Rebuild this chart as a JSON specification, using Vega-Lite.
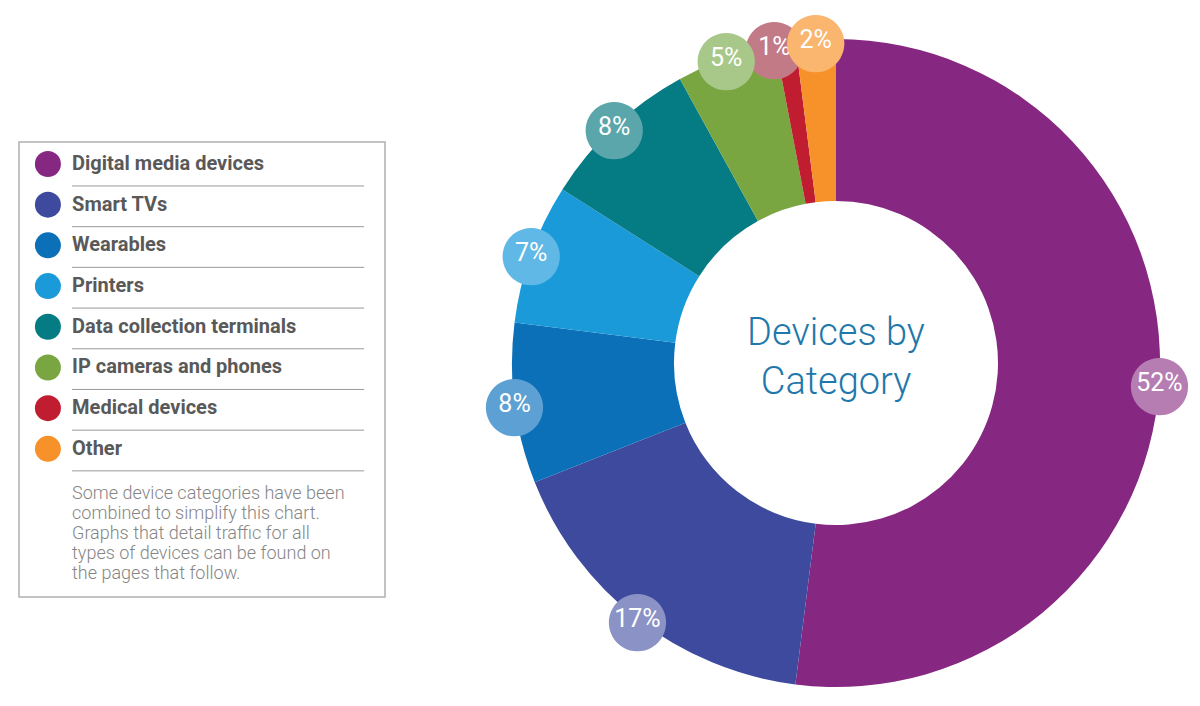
{
  "$schema": "https://vega.github.io/schema/vega-lite/v6.json",
  "background": "white",
  "padding": {"left": 18, "top": 0, "right": 0, "bottom": 0},
  "spacing": 84,
  "config": {"view": {"stroke": null}, "font": "Roboto"},
  "datasets": {
    "slices": [
      {"category": "Digital media devices", "value": 52, "label": "52%", "order": 1},
      {"category": "Smart TVs", "value": 17, "label": "17%", "order": 2},
      {"category": "Wearables", "value": 8, "label": "8%", "order": 3},
      {"category": "Printers", "value": 7, "label": "7%", "order": 4},
      {"category": "Data collection terminals", "value": 8, "label": "8%", "order": 5},
      {"category": "IP cameras and phones", "value": 5, "label": "5%", "order": 6},
      {"category": "Medical devices", "value": 1, "label": "1%", "order": 7},
      {"category": "Other", "value": 2, "label": "2%", "order": 8}
    ],
    "note": [
      {"text": "Some device categories have been\ncombined to simplify this chart.\nGraphs that detail traffic for all\ntypes of devices can be found on\nthe pages that follow."}
    ],
    "title": [{"text": "Devices by\nCategory"}]
  },
  "hconcat": [
    {
      "spacing": 0,
      "vconcat": [
        {
          "width": 366,
          "height": 141,
          "data": {"values": [{}]},
          "mark": {"type": "text", "text": ""},
          "encoding": {}
        },
        {
          "width": 366,
          "height": 455,
          "view": {"stroke": "#b0b0b0", "strokeWidth": 1.5},
          "data": {"name": "slices"},
          "layer": [
            {
              "mark": {"type": "point", "filled": true, "size": 676, "opacity": 1},
              "encoding": {
                "x": {"datum": 7.9, "type": "quantitative", "scale": {"domain": [0, 100]}, "axis": null},
                "y": {"field": "order", "type": "quantitative", "scale": {"domain": [0.46, 11.64], "reverse": true}, "axis": null},
                "color": {
                  "field": "category", "type": "nominal", "legend": null,
                  "scale": {
                    "domain": ["Digital media devices", "Smart TVs", "Wearables", "Printers", "Data collection terminals", "IP cameras and phones", "Medical devices", "Other"],
                    "range": ["#862781", "#3d4a9e", "#0b70b8", "#1a9ad8", "#057b83", "#7aa642", "#c01d30", "#f7922a"]
                  }
                }
              }
            },
            {
              "mark": {"type": "text", "align": "left", "baseline": "middle", "fontSize": 20, "fontWeight": "bold", "color": "#595959"},
              "encoding": {
                "x": {"datum": 14.5, "type": "quantitative", "scale": {"domain": [0, 100]}, "axis": null},
                "y": {"field": "order", "type": "quantitative", "scale": {"domain": [0.46, 11.64], "reverse": true}, "axis": null},
                "text": {"field": "category"}
              }
            },
            {
              "mark": {"type": "rule", "color": "#999999", "strokeWidth": 1, "yOffset": 22},
              "encoding": {
                "x": {"datum": 14.5, "type": "quantitative", "scale": {"domain": [0, 100]}, "axis": null},
                "x2": {"datum": 94.3},
                "y": {"field": "order", "type": "quantitative", "scale": {"domain": [0.46, 11.64], "reverse": true}, "axis": null}
              }
            },
            {
              "data": {"name": "note"},
              "mark": {"type": "text", "align": "left", "baseline": "middle", "fontSize": 18, "fontWeight": 300, "lineBreak": "\n", "lineHeight": 20, "color": "#858585"},
              "encoding": {
                "x": {"datum": 14.5, "type": "quantitative", "scale": {"domain": [0, 100]}, "axis": null},
                "y": {"datum": 9.11, "type": "quantitative", "scale": {"domain": [0.46, 11.64], "reverse": true}, "axis": null},
                "text": {"field": "text"}
              }
            }
          ]
        }
      ]
    },
    {
      "width": 730,
      "height": 706,
      "data": {"name": "slices"},
      "encoding": {
        "theta": {"field": "value", "type": "quantitative", "stack": true},
        "order": {"field": "order", "type": "quantitative", "sort": "ascending"}
      },
      "layer": [
        {
          "mark": {"type": "arc", "radius": 324, "radius2": 162, "yOffset": 10},
          "encoding": {
            "color": {
              "field": "category", "type": "nominal", "legend": null,
              "scale": {
                "domain": ["Digital media devices", "Smart TVs", "Wearables", "Printers", "Data collection terminals", "IP cameras and phones", "Medical devices", "Other"],
                "range": ["#862781", "#3d4a9e", "#0b70b8", "#1a9ad8", "#057b83", "#7aa642", "#a01f36", "#f7922a"]
              }
            }
          }
        },
        {
          "mark": {"type": "text", "text": "●", "font": "DejaVu Sans", "fontSize": 75, "radius": 324, "baseline": "middle", "align": "center", "yOffset": 10, "dx": -11, "dy": 4},
          "encoding": {
            "opacity": {"condition": {"test": "datum.category === 'Medical devices'", "value": 1}, "value": 0},
            "fill": {
              "field": "category", "type": "nominal", "legend": null,
              "scale": {
                "domain": ["Digital media devices", "Smart TVs", "Wearables", "Printers", "Data collection terminals", "IP cameras and phones", "Medical devices", "Other"],
                "range": ["#b67db3", "#8b92c5", "#5da0d3", "#5fb8e6", "#5aa6ab", "#a8c88a", "#c27a87", "#fab56f"]
              }
            }
          }
        },
        {
          "mark": {"type": "text", "font": "Roboto", "fontSize": 25, "radius": 324, "baseline": "middle", "align": "center", "color": "white", "yOffset": 10, "dx": -11, "dy": 4},
          "encoding": {
            "text": {"field": "label"},
            "opacity": {"condition": {"test": "datum.category === 'Medical devices'", "value": 1}, "value": 0}
          }
        },
        {
          "mark": {"type": "text", "text": "●", "font": "DejaVu Sans", "fontSize": 75, "radius": 324, "baseline": "middle", "align": "center", "yOffset": 10},
          "encoding": {
            "opacity": {"condition": {"test": "datum.category === 'Medical devices'", "value": 0}, "value": 1},
            "fill": {
              "field": "category", "type": "nominal", "legend": null,
              "scale": {
                "domain": ["Digital media devices", "Smart TVs", "Wearables", "Printers", "Data collection terminals", "IP cameras and phones", "Medical devices", "Other"],
                "range": ["#b67db3", "#8b92c5", "#5da0d3", "#5fb8e6", "#5aa6ab", "#a8c88a", "#c27a87", "#fab56f"]
              }
            }
          }
        },
        {
          "mark": {"type": "text", "font": "Roboto", "fontSize": 25, "radius": 324, "baseline": "middle", "align": "center", "color": "white", "yOffset": 10},
          "encoding": {
            "text": {"field": "label"},
            "opacity": {"condition": {"test": "datum.category === 'Medical devices'", "value": 0}, "value": 1}
          }
        },
        {
          "data": {"name": "title"},
          "mark": {"type": "text", "font": "Roboto", "fontSize": 38, "fontWeight": 300, "lineBreak": "\n", "lineHeight": 49, "baseline": "middle", "align": "center", "color": "#1f78ab", "yOffset": -19},
          "encoding": {"text": {"field": "text"}, "theta": null, "order": null}
        }
      ]
    }
  ]
}
